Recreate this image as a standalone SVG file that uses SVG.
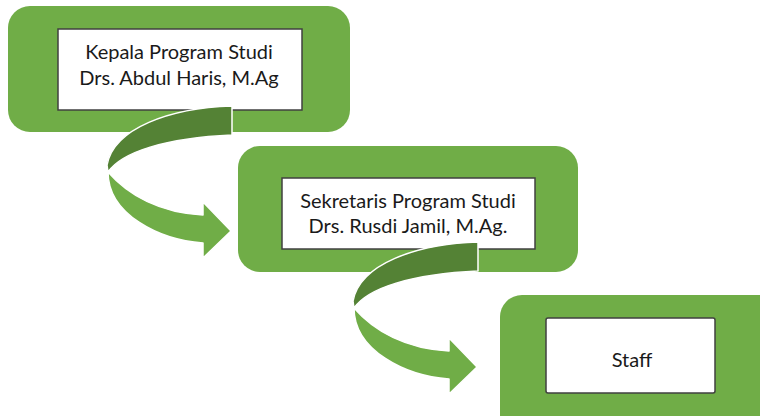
<svg xmlns="http://www.w3.org/2000/svg" xmlns:xlink="http://www.w3.org/1999/xlink" width="760" height="416" viewBox="0 0 760 416">
<style>
.outer{fill:#70AD47}
.inner{fill:#FFFFFF;stroke:#404040;stroke-width:1.5}
.lbl{font-family:Lato,"Open Sans","Liberation Sans",sans-serif;font-size:20px;fill:#1a1a1a;text-anchor:middle}
.back{fill:#548235;stroke:#FFFFFF;stroke-width:1.5;stroke-linejoin:round}
.front{fill:#70AD47;stroke:#FFFFFF;stroke-width:1.5;stroke-linejoin:round}
</style>
<defs>
<g id="curvedArrow">
<path class="back" d="M232,106 C170,108 114,128 107,165 L108,172 C122,152 165,138 232,135 Z"/>
<path class="front" d="M108,172 C108,215 160,240 203,243 L203,258 L231,231 L203,202 L203,215 C160,213 128,195 108,172 Z"/>
</g>
</defs>
<rect width="760" height="416" fill="#FFFFFF"/>
<g id="node-kepala">
<rect class="outer" x="8" y="6" width="342" height="126" rx="22"/>
<rect class="inner" x="58" y="29" width="244" height="81"/>
<text class="lbl" x="179" y="59">Kepala Program Studi</text>
<text class="lbl" x="179" y="85">Drs. Abdul Haris, M.Ag</text>
</g>
<g id="node-sekretaris">
<rect class="outer" x="238" y="146" width="340" height="126" rx="22"/>
<rect class="inner" x="282" y="178" width="253" height="71"/>
<text class="lbl" x="408" y="208">Sekretaris Program Studi</text>
<text class="lbl" x="408" y="233">Drs. Rusdi Jamil, M.Ag.</text>
</g>
<g id="node-staff">
<rect class="outer" x="500" y="295" width="300" height="150" rx="22"/>
<rect class="inner" x="546" y="318" width="169" height="75" rx="2"/>
<text class="lbl" x="632" y="367">Staff</text>
</g>
<g id="connectors">
<use xlink:href="#curvedArrow"/>
<use xlink:href="#curvedArrow" transform="translate(246,136)"/>
</g>
</svg>
